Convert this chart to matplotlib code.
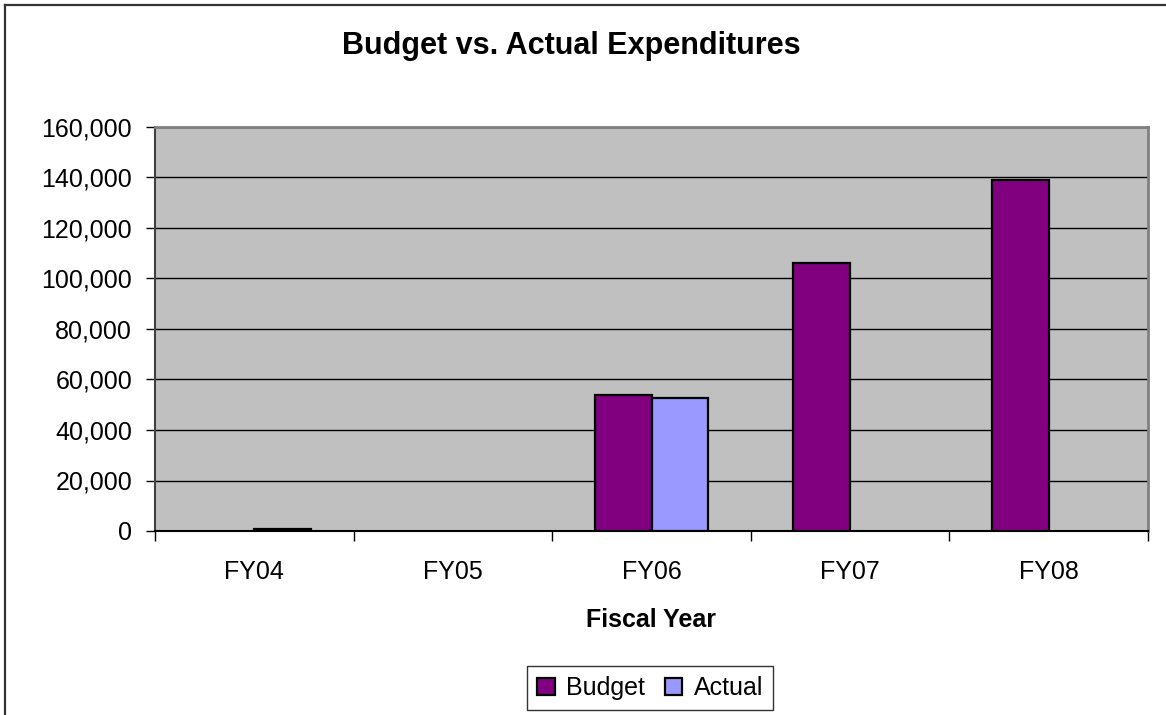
import matplotlib
matplotlib.use("Agg")
import matplotlib.pyplot as plt
import numpy as np
from matplotlib.patches import Patch

# Expenditure data by fiscal year
years = ["FY04", "FY05", "FY06", "FY07", "FY08"]
budget = [0, 0, 54000, 106000, 139000]
actual = [800, 0, 52700, 0, 0]
y_ticks = [0, 20000, 40000, 60000, 80000, 100000, 120000, 140000, 160000]

BUDGET_COLOR = "#800080"
ACTUAL_COLOR = "#9999FF"
FONT = "Liberation Sans"
FS = 18

W, H = 1166, 715
fig = plt.figure(figsize=(W / 100, H / 100), dpi=100)
fig.patch.set_facecolor("white")

# outer chart frame (left and top edges visible)
fig.add_artist(plt.Line2D([5 / W, 5 / W], [0, 1 - 5 / H], color="#333333", lw=1.6,
                          transform=fig.transFigure))
fig.add_artist(plt.Line2D([5 / W, 1], [1 - 5 / H, 1 - 5 / H], color="#333333", lw=1.6,
                          transform=fig.transFigure))

left, right, top, bottom = 155, 1148, 127, 531
ax = fig.add_axes([left / W, 1 - bottom / H, (right - left) / W, (bottom - top) / H])
ax.set_facecolor("#C0C0C0")

x = np.arange(len(years))
bw = 1 / 3.5


def draw_series(offset, values, color):
    bars = ax.bar(x + offset, values, bw, color=color, edgecolor="black",
                  linewidth=1.6, zorder=3)
    # empty years get no outline
    for rect, v in zip(bars, values):
        if v == 0:
            rect.set_linewidth(0)
    return bars


draw_series(-bw / 2, budget, BUDGET_COLOR)
draw_series(bw / 2, actual, ACTUAL_COLOR)

ax.set_xlim(-0.5, len(years) - 0.5)
ax.set_ylim(0, 160000)
ax.set_yticks(y_ticks)
ax.set_yticklabels([f"{v:,}" for v in y_ticks], fontfamily=FONT, fontsize=FS)
ax.yaxis.grid(True, color="black", linewidth=1.0, zorder=1)
ax.set_axisbelow(True)

ax.set_xticks(x)
ax.set_xticklabels(years, fontfamily=FONT, fontsize=FS)
ax.set_xticks(np.arange(-0.5, len(years), 1.0), minor=True)
ax.tick_params(axis="x", which="major", length=0, pad=21)
ax.tick_params(axis="x", which="minor", length=7, width=1.0, color="black")
ax.tick_params(axis="y", length=6.5, width=1.0, color="black", pad=10)

for side in ("top", "right"):
    ax.spines[side].set_color("#808080")
    ax.spines[side].set_linewidth(2.0)
ax.spines["left"].set_color("#404040")
ax.spines["left"].set_linewidth(1.5)
ax.spines["bottom"].set_color("black")
ax.spines["bottom"].set_linewidth(1.5)

fig.text(571 / W, 1 - 46 / H, "Budget vs. Actual Expenditures", ha="center", va="center",
         fontfamily=FONT, fontsize=22, fontweight="bold")
ax.set_xlabel("Fiscal Year", fontfamily=FONT, fontsize=FS, fontweight="bold", labelpad=17)

handles = [Patch(facecolor=BUDGET_COLOR, edgecolor="black", linewidth=1.6, label="Budget"),
           Patch(facecolor=ACTUAL_COLOR, edgecolor="black", linewidth=1.6, label="Actual")]
leg = fig.legend(handles=handles, loc="center", bbox_to_anchor=(650 / W, 1 - 688 / H), ncol=2,
                 prop={"family": FONT, "size": FS}, frameon=True, fancybox=False,
                 edgecolor="black", handlelength=0.7, handleheight=0.7,
                 handletextpad=0.45, columnspacing=0.8, borderpad=0.4,
                 borderaxespad=0)
leg.get_frame().set_linewidth(1.0)

fig.savefig("out.png", dpi=100, facecolor="white")
